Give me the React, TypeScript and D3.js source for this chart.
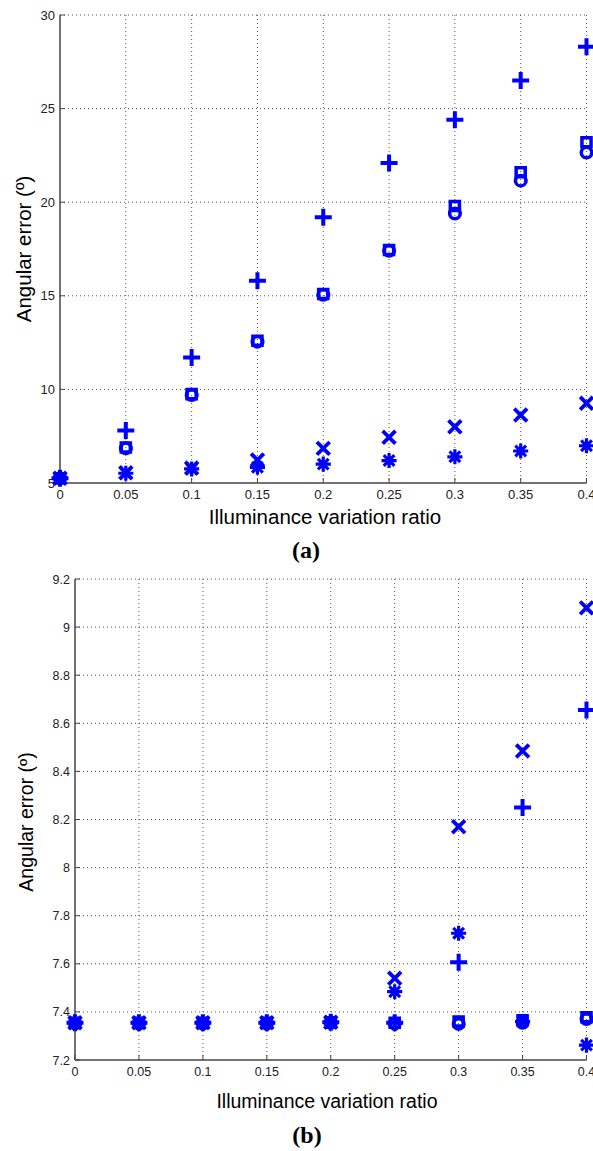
import React, { useEffect, useRef } from 'react'
import * as d3 from 'd3'

const ratios = [0, 0.05, 0.1, 0.15, 0.2, 0.25, 0.3, 0.35, 0.4]
const xTicks = [0, 0.05, 0.1, 0.15, 0.2, 0.25, 0.3, 0.35, 0.4]

// panel (a)
const yTicksA = [5, 10, 15, 20, 25, 30]
const squareA = [5.25, 6.9, 9.75, 12.6, 15.1, 17.45, 19.8, 21.6, 23.2]
const circleA = [5.25, 6.85, 9.7, 12.55, 15.05, 17.4, 19.4, 21.15, 22.65]
const plusA = [5.25, 7.8, 11.7, 15.8, 19.2, 22.1, 24.4, 26.5, 28.3]
const crossA = [5.25, 5.55, 5.8, 6.23, 6.85, 7.44, 8.0, 8.63, 9.26]
const starA = [5.25, 5.52, 5.75, 5.84, 6.01, 6.2, 6.4, 6.71, 6.99]

// panel (b)
const yTicksB = [7.2, 7.4, 7.6, 7.8, 8, 8.2, 8.4, 8.6, 8.8, 9, 9.2]
const squareB = [7.355, 7.355, 7.355, 7.355, 7.357, 7.355, 7.36, 7.365, 7.378]
const circleB = [7.352, 7.352, 7.352, 7.352, 7.355, 7.352, 7.35, 7.355, 7.37]
const plusB = [7.355, 7.355, 7.355, 7.355, 7.357, 7.355, 7.606, 8.25, 8.655]
const crossB = [7.355, 7.355, 7.355, 7.355, 7.357, 7.54, 8.17, 8.485, 9.08]
const starB = [7.355, 7.355, 7.355, 7.355, 7.357, 7.484, 7.727, 7.36, 7.262]

const BLUE = '#0000ff'
const FONT = "'Liberation Sans', Arial, sans-serif"

function markerPath(kind: string, s: number) {
  if (kind === 'plus') return `M${-s},0H${s}M0,${-s}V${s}`
  const c = s * 0.72
  if (kind === 'cross') return `M${-c},${-c}L${c},${c}M${-c},${c}L${c},${-c}`
  if (kind === 'star') {
    const d = s * 0.6
    return `M${-s * 0.85},0H${s * 0.85}M0,${-s * 0.85}V${s * 0.85}M${-d},${-d}L${d},${d}M${-d},${d}L${d},${-d}`
  }
  if (kind === 'square') return `M${-s * 0.7},${-s * 0.7}H${s * 0.7}V${s * 0.7}H${-s * 0.7}Z`
  const p = d3.path()
  p.arc(0, 0, s * 0.75, 0, Math.PI * 2)
  return p.toString()
}

function drawPanel(svg: any, cfg: any) {
  const x = d3.scaleLinear().domain([0, 0.4]).range([cfg.left, cfg.right])
  const y = d3.scaleLinear().domain(cfg.yDomain).range([cfg.bottom, cfg.top])
  const g = svg.append('g')

  // grid
  g.selectAll('.vg').data(xTicks.slice(1)).enter().append('line')
    .attr('x1', (d: number) => x(d)).attr('x2', (d: number) => x(d))
    .attr('y1', cfg.top).attr('y2', cfg.bottom)
    .attr('stroke', '#555').attr('stroke-width', 1).attr('stroke-dasharray', '1,3')
  g.selectAll('.hg').data(cfg.yTicks.slice(1)).enter().append('line')
    .attr('x1', cfg.left).attr('x2', cfg.right)
    .attr('y1', (d: number) => y(d)).attr('y2', (d: number) => y(d))
    .attr('stroke', '#555').attr('stroke-width', 1).attr('stroke-dasharray', '1,3')

  // axes
  g.append('line').attr('x1', cfg.left).attr('x2', cfg.left).attr('y1', cfg.top).attr('y2', cfg.bottom)
    .attr('stroke', '#444').attr('stroke-width', 1.5)
  g.append('line').attr('x1', cfg.left).attr('x2', cfg.right).attr('y1', cfg.bottom).attr('y2', cfg.bottom)
    .attr('stroke', '#444').attr('stroke-width', 1.5)
  g.selectAll('.xt').data(xTicks).enter().append('line')
    .attr('x1', (d: number) => x(d)).attr('x2', (d: number) => x(d))
    .attr('y1', cfg.bottom).attr('y2', cfg.bottom - 5)
    .attr('stroke', '#444').attr('stroke-width', 1)
  g.selectAll('.yt').data(cfg.yTicks).enter().append('line')
    .attr('x1', cfg.left).attr('x2', cfg.left + 5)
    .attr('y1', (d: number) => y(d)).attr('y2', (d: number) => y(d))
    .attr('stroke', '#444').attr('stroke-width', 1)

  g.selectAll('.xl').data(xTicks).enter().append('text')
    .attr('x', (d: number) => x(d)).attr('y', cfg.bottom + 16)
    .attr('text-anchor', 'middle').attr('font-family', FONT).attr('font-size', cfg.tickSize)
    .attr('fill', '#222').text((d: number) => String(+d.toFixed(2)))
  g.selectAll('.yl').data(cfg.yTicks).enter().append('text')
    .attr('x', cfg.left - 5).attr('y', (d: number) => y(d)).attr('dy', '0.36em')
    .attr('text-anchor', 'end').attr('font-family', FONT).attr('font-size', cfg.tickSize)
    .attr('fill', '#222').text((d: number) => String(+d.toFixed(1)))

  // titles
  g.append('text').attr('x', cfg.xTitleX).attr('y', cfg.xTitleY)
    .attr('text-anchor', 'middle').attr('font-family', FONT).attr('font-size', cfg.titleSize)
    .attr('fill', '#000').text('Illuminance variation ratio')
  g.append('text').attr('transform', `translate(${cfg.yTitleX},${cfg.yTitleY}) rotate(-90)`)
    .attr('text-anchor', 'middle').attr('font-family', FONT).attr('font-size', cfg.titleSize)
    .attr('fill', '#000').text('Angular error (º)')
  g.append('text').attr('x', cfg.capX).attr('y', cfg.capY)
    .attr('text-anchor', 'middle').attr('font-family', "'Liberation Serif', 'Times New Roman', serif")
    .attr('font-weight', 'bold').attr('font-size', 24).attr('fill', '#000').text(cfg.caption)

  // markers
  cfg.series.forEach((s: any) => {
    g.selectAll(null).data(s.values).enter().append('path')
      .attr('transform', (d: number, i: number) => `translate(${x(ratios[i])},${y(d)})`)
      .attr('d', markerPath(s.kind, s.size))
      .attr('fill', 'none').attr('stroke', BLUE).attr('stroke-width', s.width)
      .attr('stroke-linecap', 'square')
  })
}

export default function App() {
  const ref = useRef<SVGSVGElement>(null)

  useEffect(() => {
    const svg = d3.select(ref.current)
    svg.selectAll('*').remove()
    drawPanel(svg, {
      left: 60, right: 586.5, top: 15, bottom: 483, yDomain: [5, 30], yTicks: yTicksA,
      tickSize: 13, titleSize: 20.5, xTitleX: 325, xTitleY: 524, yTitleX: 31, yTitleY: 249,
      caption: '(a)', capX: 306, capY: 558,
      series: [
        { kind: 'square', values: squareA, size: 6.5, width: 3.5 },
        { kind: 'circle', values: circleA, size: 7, width: 3.5 },
        { kind: 'plus', values: plusA, size: 6.5, width: 4 },
        { kind: 'cross', values: crossA, size: 7, width: 3.8 },
        { kind: 'star', values: starA, size: 7, width: 3.2 },
      ],
    })
    drawPanel(svg, {
      left: 75, right: 586.5, top: 579, bottom: 1060, yDomain: [7.2, 9.2], yTicks: yTicksB,
      tickSize: 12.5, titleSize: 19.5, xTitleX: 327, xTitleY: 1108, yTitleX: 33, yTitleY: 822,
      caption: '(b)', capX: 307, capY: 1143,
      series: [
        { kind: 'square', values: squareB, size: 6.5, width: 3.5 },
        { kind: 'circle', values: circleB, size: 7, width: 3.5 },
        { kind: 'plus', values: plusB, size: 6.5, width: 4 },
        { kind: 'cross', values: crossB, size: 7, width: 3.8 },
        { kind: 'star', values: starB, size: 7, width: 3.2 },
      ],
    })
  }, [])

  return (
    <svg ref={ref} width={593} height={1151}
      style={{ position: 'absolute', left: 0, top: 0, background: '#fff' }} />
  )
}
